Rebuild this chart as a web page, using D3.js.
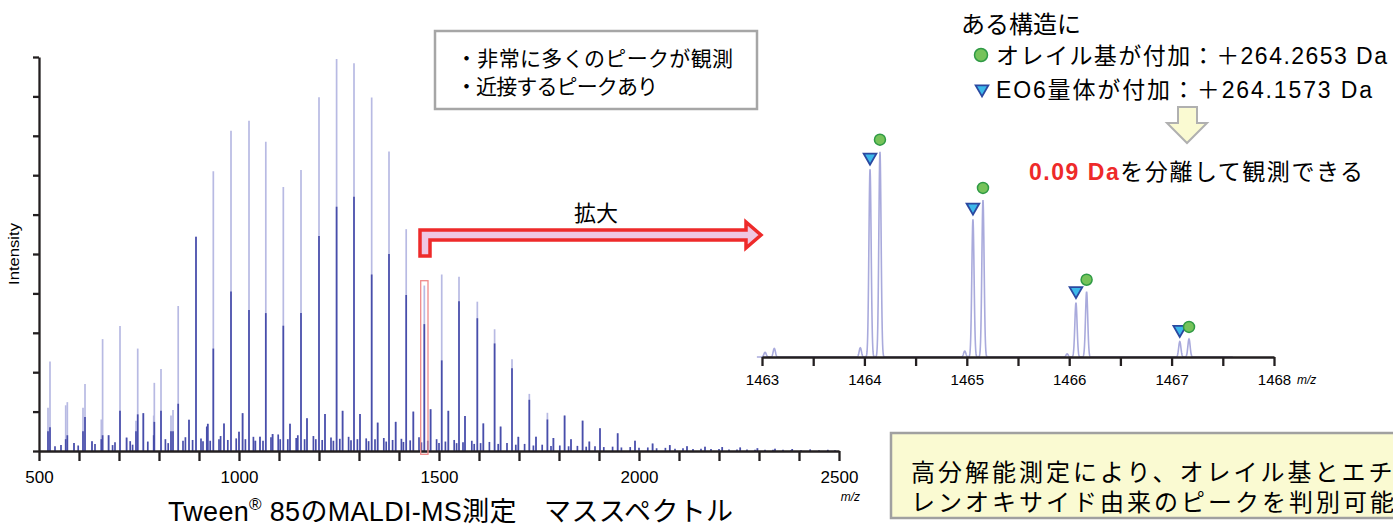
<!DOCTYPE html>
<html>
<head>
<meta charset="utf-8">
<script src="https://cdn.jsdelivr.net/npm/d3@7"></script>
<style>
  body { margin: 0; background: #fff; }
  text { font-family: 'Liberation Sans', 'Noto Sans CJK JP', sans-serif; }
</style>
</head>
<body>
<div id="vis"></div>
<script>
// frame size
const FRAME_WIDTH = 1393;
const FRAME_HEIGHT = 526;

// main spectrum: peaks (m/z, top intensity %, dark part %)
const PEAK_MZ = [522.5, 527.5, 566.8, 570.8, 587.5, 610, 615, 632.5, 655.8, 659, 674, 702.5, 719, 742.5, 746.8, 760.8,
  786.8, 788.3, 805, 830, 835, 848, 875, 892.5, 919.5, 922, 935.8, 962.5, 980, 1000, 1009, 1025, 1040.8, 1052.5,
  1067, 1084, 1110.8, 1127.5, 1155, 1170, 1200, 1215, 1244, 1259, 1287.5, 1302.5, 1331.7, 1346.7, 1375, 1391.7,
  1418, 1435.8, 1463.3, 1479, 1506.8, 1523.3, 1550, 1565, 1595.8, 1610.8, 1639, 1654, 1682.5, 1698.3, 1725.8,
  1742.5, 1771, 1786, 1814, 1830, 1859, 1875.8, 1902.5, 1946.7, 1990, 2034, 2077, 2120, 2165, 2208, 2253, 2296,
  2340, 2383, 2428, 2472];
const PEAK_TOP = [11, 22.7, 11.6, 12.4, 2, 11, 17, 2.5, 8, 28.4, 4, 31.7, 3.4, 7.7, 26, 9.6,
  9, 17.3, 20.8, 9, 10.4, 36.8, 7.9, 54.4, 6.2, 6.9, 71, 7, 81.3, 4.9, 9.6, 83.8, 2.6, 3.6,
  78.5, 4.3, 67, 6.9, 71.3, 8.3, 89.8, 9.4, 99.5, 10.2, 98.4, 9.4, 89.7, 7.2, 76, 7.4,
  56.3, 10, 42, 10.6, 44.8, 10.2, 44.2, 8.9, 37.9, 7, 30.9, 6.2, 23.3, 3.6, 14.5,
  3.6, 9.7, 3.3, 9, 3, 7.7, 2.4, 5.8, 4.5, 2.6, 1.9, 1.5, 1.2, 1.1, 1.0, 0.9, 0.7,
  0.6, 0.5, 0.4, 0.3];
const PEAK_DARK = [5, 6, 3, 4, 2, 5, 8.6, 2.5, 3, 4, 4, 10.2, 3.4, 5, 9.3, 9.6,
  4, 7.4, 10.2, 5, 5, 12, 7.9, 54.4, 6.2, 6.9, 26, 7, 40.5, 4.9, 9.6, 35.8, 2.6, 3.6,
  35, 4.3, 31.8, 6.9, 35, 8.3, 54.6, 9.4, 62, 10.2, 64.5, 9.4, 44.8, 7.2, 50, 7.4,
  39.6, 10, 32.2, 10.6, 23, 10.2, 38, 8.9, 33.7, 7, 27.3, 6.2, 21, 3.6, 13,
  3.6, 8, 3.3, 9, 3, 7.7, 2.4, 5.8, 4.5, 2.6, 1.9, 1.5, 1.2, 1.1, 1.0, 0.9, 0.7,
  0.6, 0.5, 0.4, 0.3];

// small peaks along the baseline (m/z, intensity %)
const SMALL_MZ = [540, 555, 598, 640, 684, 690, 728, 734, 772, 816, 823, 860, 866, 884, 905, 910, 928, 950, 954,
  972, 993, 1016, 1036, 1060, 1080, 1098, 1103, 1122, 1143, 1147, 1164, 1186, 1192, 1208, 1230, 1236, 1252, 1274,
  1280, 1296, 1318, 1324, 1340, 1362, 1368, 1384, 1406, 1411, 1428, 1450, 1456, 1472, 1494, 1500, 1516, 1538,
  1544, 1560, 1582, 1588, 1604, 1626, 1648, 1670, 1692, 1714, 1736, 1758, 1780, 1802, 1824, 1846, 1868, 1890,
  1912, 1934, 1956, 1978, 2000, 2022, 2044, 2066, 2090, 2110, 2135, 2155, 2180, 2200, 2225, 2245, 2270, 2290,
  2315, 2335, 2360, 2380, 2405, 2450, 2490];
const SMALL_INT = [1.2, 1.5, 1.4, 1.8, 1.5, 2.2, 2.5, 1.6, 2.4, 3, 2, 2.6, 3.5, 2.8, 3.2, 2.5, 2.6, 3, 3.8,
  2.8, 3.2, 3, 3.6, 2.6, 3.5, 4.2, 3, 3, 3.3, 4, 3, 3.8, 3, 2.8, 3.4, 2.6, 3.1, 3.6,
  2.7, 3, 3.2, 2.5, 3, 3.3, 2.4, 2.8, 3.1, 2.3, 2.7, 3.5, 2.2, 2.6, 3, 2, 2.4, 2.8,
  2, 2.2, 2.6, 1.8, 2, 2.3, 1.8, 2, 1.6, 1.8, 1.4, 1.6, 1.3, 1.4, 1.2, 1.3, 1.1, 1.2,
  1, 1.1, 0.9, 1, 0.8, 0.9, 0.7, 0.8, 0.6, 0.7, 0.5, 0.6, 0.5, 0.5, 0.4, 0.4, 0.4, 0.3,
  0.3, 0.3, 0.3, 0.2, 0.2, 0.2, 0.2];

const X_MAIN_TICKS = [500, 600, 700, 800, 900, 1000, 1100, 1200, 1300, 1400, 1500, 1600, 1700, 1800, 1900, 2000,
  2100, 2200, 2300, 2400, 2500];
const X_MAIN_LABELS = [500, 1000, 1500, 2000, 2500];
const Y_MAIN_TICKS = [0, 10, 20, 30, 40, 50, 60, 70, 80, 90, 100];

// zoomed inset: peaks (m/z, relative intensity)
const INSET_MZ = [1463.03, 1463.12, 1463.96, 1464.055, 1464.152, 1464.98, 1465.06, 1465.158, 1465.98, 1466.066,
  1466.17, 1467.08, 1467.17];
const INSET_INT = [2.3, 4.2, 4.5, 91.4, 100, 2.9, 67.1, 76.5, 1.5, 26.4, 31.8, 7.5, 8.8];
const EO6_MZ = [1464.055, 1465.06, 1466.066, 1467.08];
const EO6_INT = [91.4, 67.1, 26.4, 7.5];
const OLEYL_MZ = [1464.152, 1465.158, 1466.17, 1467.17];
const OLEYL_INT = [100, 76.5, 31.8, 8.8];
const INSET_TICKS = [1463, 1463.5, 1464, 1464.5, 1465, 1465.5, 1466, 1466.5, 1467, 1467.5, 1468];
const INSET_LABELS = [1463, 1464, 1465, 1466, 1467, 1468];

// colours
const LIGHT = "#b8bae3";
const DARK = "#484eaa";
const AXIS = "#231f20";
const INSET_LINE = "#a9aadc";
const RED = "#ee2a2a";

// create svg
const FRAME = d3.select("#vis")
  .append("svg")
  .attr("width", FRAME_WIDTH)
  .attr("height", FRAME_HEIGHT);

// scales for the main spectrum
const X_MAIN = d3.scaleLinear().domain([500, 2500]).range([39, 839]);
const Y_MAIN = d3.scaleLinear().domain([0, 100]).range([451, 57]);

const PEAKS = PEAK_MZ.map((d, i) => ({mz: d, top: PEAK_TOP[i], dark: PEAK_DARK[i]}));
const SMALL = SMALL_MZ.map((d, i) => ({mz: d, top: SMALL_INT[i]}));

// light full-height sticks
FRAME.append("g").selectAll("line")
  .data(PEAKS)
  .enter()
  .append("line")
  .attr("x1", (d) => X_MAIN(d.mz))
  .attr("x2", (d) => X_MAIN(d.mz))
  .attr("y1", Y_MAIN(0))
  .attr("y2", (d) => Y_MAIN(d.top))
  .attr("stroke", LIGHT)
  .attr("stroke-width", 1.7);

// darker lower part of the sticks
FRAME.append("g").selectAll("line")
  .data(PEAKS)
  .enter()
  .append("line")
  .attr("x1", (d) => X_MAIN(d.mz))
  .attr("x2", (d) => X_MAIN(d.mz))
  .attr("y1", Y_MAIN(0))
  .attr("y2", (d) => Y_MAIN(d.dark))
  .attr("stroke", DARK)
  .attr("stroke-width", 1.7);

// small baseline peaks
FRAME.append("g").selectAll("line")
  .data(SMALL)
  .enter()
  .append("line")
  .attr("x1", (d) => X_MAIN(d.mz))
  .attr("x2", (d) => X_MAIN(d.mz))
  .attr("y1", Y_MAIN(0))
  .attr("y2", (d) => Y_MAIN(d.top))
  .attr("stroke", DARK)
  .attr("stroke-width", 1.7);

// axes of the main spectrum
const X_AXIS = FRAME.append("g")
  .attr("transform", "translate(0," + Y_MAIN(0) + ")")
  .call(d3.axisBottom(X_MAIN).tickValues(X_MAIN_TICKS).tickSize(10).tickSizeOuter(0)
    .tickFormat((d) => X_MAIN_LABELS.includes(d) ? d : ""));
X_AXIS.selectAll("text").attr("y", 20).attr("font-size", "17px").attr("fill", "#000");

const Y_AXIS = FRAME.append("g")
  .attr("transform", "translate(" + X_MAIN(500) + ",0)")
  .call(d3.axisLeft(Y_MAIN).tickValues(Y_MAIN_TICKS).tickSize(6).tickSizeOuter(0).tickFormat(""));

FRAME.selectAll(".domain, .tick line").attr("stroke", AXIS).attr("stroke-width", 2.3);

FRAME.append("text")
  .attr("transform", "translate(19,254) rotate(-90)")
  .attr("text-anchor", "middle")
  .attr("font-size", "14px")
  .attr("textLength", 62)
  .attr("lengthAdjust", "spacingAndGlyphs")
  .text("Intensity");

FRAME.append("text")
  .attr("x", 860).attr("y", 501)
  .attr("text-anchor", "end")
  .attr("font-size", "12px")
  .attr("font-style", "italic")
  .text("m/z");

// title under the spectrum
const TITLE = FRAME.append("text")
  .attr("x", 168).attr("y", 521)
  .attr("font-size", "27px")
  .attr("textLength", 565)
  .attr("lengthAdjust", "spacing");
TITLE.append("tspan").text("Tween");
TITLE.append("tspan").attr("font-size", "17px").attr("dy", -11).text("®");
TITLE.append("tspan").attr("dy", 11).text(" 85のMALDI-MS測定　マススペクトル");

// red box marking the zoomed region
FRAME.append("rect")
  .attr("x", 420.7).attr("y", 280.7)
  .attr("width", 7.3).attr("height", 173.6)
  .attr("fill", "none")
  .attr("stroke", "#f08a8a")
  .attr("stroke-width", 1.3);

// comment box
FRAME.append("rect")
  .attr("x", 435).attr("y", 31)
  .attr("width", 322).attr("height", 78)
  .attr("fill", "#fff")
  .attr("stroke", "#a6a6a6")
  .attr("stroke-width", 2.5);
FRAME.append("text").attr("x", 456).attr("y", 66).attr("font-size", "21px")
  .attr("textLength", 277).attr("lengthAdjust", "spacing")
  .text("・非常に多くのピークが観測");
FRAME.append("text").attr("x", 456).attr("y", 94).attr("font-size", "21px")
  .attr("textLength", 202).attr("lengthAdjust", "spacing")
  .text("・近接するピークあり");

// bent zoom arrow
FRAME.append("path")
  .attr("d", "M420,256 L420,230 L746,230 L746,222 L761,235 L746,248 L746,240 L430,240 L430,256 Z")
  .attr("fill", "#efc6e2")
  .attr("stroke", RED)
  .attr("stroke-width", 3.5)
  .attr("stroke-linejoin", "miter");
FRAME.append("text").attr("x", 596).attr("y", 221).attr("text-anchor", "middle")
  .attr("font-size", "22px").text("拡大");

// scales for the inset
const X_IN = d3.scaleLinear().domain([1463, 1468]).range([762, 1274]);
const Y_IN = d3.scaleLinear().domain([0, 100]).range([357, 151.7]);

// peak profile around each centroid
const SIGMA = 0.011;
const PROFILE = d3.range(1462.95, 1467.6, 0.002).map((m) => {
  let v = 0;
  INSET_MZ.forEach((c, i) => { v += INSET_INT[i] * Math.exp(-0.5 * Math.pow((m - c) / SIGMA, 2)); });
  return [m, v];
});

FRAME.append("path")
  .datum(PROFILE)
  .attr("fill", "none")
  .attr("stroke", INSET_LINE)
  .attr("stroke-width", 1.6)
  .attr("d", d3.line().x((d) => X_IN(d[0])).y((d) => Y_IN(d[1])));

const IN_AXIS = FRAME.append("g")
  .attr("transform", "translate(0," + Y_IN(0) + ")")
  .call(d3.axisBottom(X_IN).tickValues(INSET_TICKS).tickSize(9).tickSizeOuter(0)
    .tickFormat((d) => INSET_LABELS.includes(d) ? d : ""));
IN_AXIS.selectAll(".domain, .tick line").attr("stroke", AXIS).attr("stroke-width", 2.3);
IN_AXIS.selectAll("text").attr("y", 17.5).attr("font-size", "15px").attr("fill", "#000");

FRAME.append("text")
  .attr("x", 1297).attr("y", 384)
  .attr("font-size", "12px")
  .attr("font-style", "italic")
  .text("m/z");

// markers over the peak pairs
const TRI = d3.symbol().type(d3.symbolTriangle).size(70);
FRAME.append("g").selectAll("path")
  .data(EO6_MZ)
  .enter()
  .append("path")
  .attr("d", TRI)
  .attr("transform", (d, i) => "translate(" + X_IN(d) + "," + (Y_IN(EO6_INT[i]) - 12) + ") rotate(180)")
  .attr("fill", "#3cb8ea")
  .attr("stroke", "#2b48a0")
  .attr("stroke-width", 1.8);

FRAME.append("g").selectAll("circle")
  .data(OLEYL_MZ)
  .enter()
  .append("circle")
  .attr("cx", (d) => X_IN(d))
  .attr("cy", (d, i) => Y_IN(OLEYL_INT[i]) - 12)
  .attr("r", 5.5)
  .attr("fill", "#76c35a")
  .attr("stroke", "#2f9a45")
  .attr("stroke-width", 1.5);

// legend / explanation at top right
FRAME.append("text").attr("x", 961).attr("y", 33).attr("font-size", "24px").text("ある構造に");
FRAME.append("circle").attr("cx", 981).attr("cy", 55).attr("r", 6.5)
  .attr("fill", "#76c35a").attr("stroke", "#2f9a45").attr("stroke-width", 1.5);
FRAME.append("text").attr("x", 996).attr("y", 64).attr("font-size", "23px")
  .attr("textLength", 391).attr("lengthAdjust", "spacing")
  .text("オレイル基が付加：＋264.2653 Da");
FRAME.append("path").attr("d", TRI)
  .attr("transform", "translate(982,89) rotate(180)")
  .attr("fill", "#3cb8ea").attr("stroke", "#2b48a0").attr("stroke-width", 1.8);
FRAME.append("text").attr("x", 996).attr("y", 98).attr("font-size", "23px")
  .attr("textLength", 376).attr("lengthAdjust", "spacing")
  .text("EO6量体が付加：＋264.1573 Da");

// down arrow
FRAME.append("path")
  .attr("d", "M1178,107 L1197,107 L1197,123 L1207,123 L1187,143 L1167,123 L1178,123 Z")
  .attr("fill", "#fafad2")
  .attr("stroke", "#b0b0b0")
  .attr("stroke-width", 2);

const RESULT = FRAME.append("text").attr("x", 1029).attr("y", 180).attr("font-size", "23px")
  .attr("textLength", 334).attr("lengthAdjust", "spacing");
RESULT.append("tspan").attr("fill", RED).attr("font-weight", "bold").text("0.09 Da");
RESULT.append("tspan").text("を分離して観測できる");

// conclusion box at bottom right (runs past the right edge as in the original)
FRAME.append("rect")
  .attr("x", 891).attr("y", 433)
  .attr("width", 520).attr("height", 85)
  .attr("fill", "#fafad2")
  .attr("stroke", "#a0a0a0")
  .attr("stroke-width", 2.5);
FRAME.append("text").attr("x", 911).attr("y", 481).attr("font-size", "24px")
  .attr("letter-spacing", "3px")
  .text("高分解能測定により、オレイル基とエチ");
FRAME.append("text").attr("x", 911).attr("y", 511).attr("font-size", "24px")
  .attr("letter-spacing", "3px")
  .text("レンオキサイド由来のピークを判別可能に");
</script>
</body>
</html>
